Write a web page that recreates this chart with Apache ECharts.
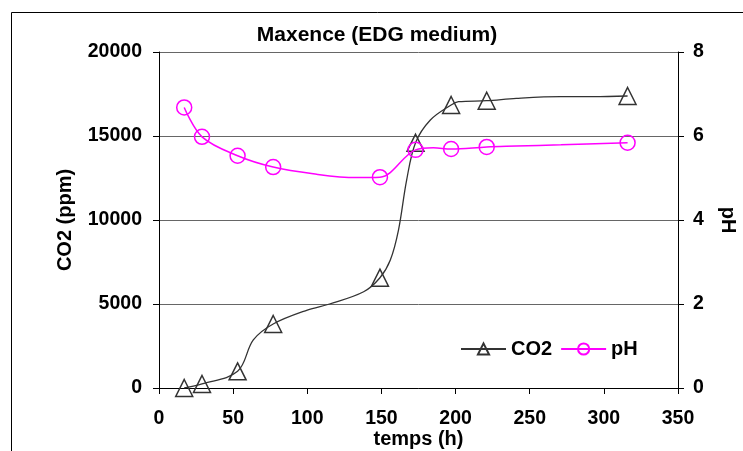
<!DOCTYPE html>
<html>
<head>
<meta charset="utf-8">
<script src="https://cdn.jsdelivr.net/npm/echarts@6/dist/echarts.min.js"></script>
<style>html,body{margin:0;padding:0;background:#fff;}#c{width:743px;height:451px;}</style>
</head>
<body>
<div id="c"></div>
<script>
// Measured points (with markers)
const co2Times = [17, 29, 53, 77, 149, 173, 197, 221, 316];
const co2Values = [0, 240, 990, 3810, 6565, 14600, 16845, 17100, 17380];
// Extra curve points (no markers)
const co2CurveTimes = [63.6, 100, 115, 138, 156, 161.5, 167, 183, 202, 241, 271, 293];
const co2CurveValues = [2860, 4640, 5000, 5730, 7620, 9400, 12380, 15950, 17040, 17240, 17340, 17340];

const phTimes = [17, 29, 53, 77, 149, 173, 197, 221, 316];
const phValues = [6.68, 5.98, 5.53, 5.26, 5.02, 5.67, 5.69, 5.74, 5.84];
const phCurveTimes = [104, 133, 185, 241, 271];
const phCurveValues = [5.10, 5.01, 5.72, 5.76, 5.79];

const xTicks = [0, 50, 100, 150, 200, 250, 300, 350];

function build(tm, vm, tc, vc) {
  const pts = [];
  tm.forEach((t, i) => pts.push({ value: [t, vm[i]] }));
  tc.forEach((t, i) => pts.push({ value: [t, vc[i]], symbol: 'none' }));
  pts.sort((a, b) => a.value[0] - b.value[0]);
  return pts;
}

const FONT = "'Liberation Sans', Arial, sans-serif";
const lbl = { color: '#000', fontFamily: FONT, fontWeight: 'bold', fontSize: 19.5 };

const chart = echarts.init(document.getElementById('c'), null, { renderer: 'canvas' });
chart.setOption({
  animation: false,
  backgroundColor: '#fff',
  title: {
    text: 'Maxence (EDG medium)',
    left: 372, top: 20, textAlign: 'center',
    textStyle: { color: '#000', fontFamily: FONT, fontWeight: 'bold', fontSize: 21 }
  },
  graphic: [{
    type: 'polyline',
    shape: { points: [[11.5, 451], [11.5, 12.5], [743, 12.5]] },
    style: { stroke: '#000', lineWidth: 1, fill: null }
  }],
  grid: { left: 159, right: 65, top: 52, bottom: 63, containLabel: false, outerBoundsMode: 'none' },
  legend: {
    left: 455, top: 334,
    itemWidth: 45, itemHeight: 14, itemGap: 8,
    textStyle: Object.assign({}, lbl, { fontSize: 20 }),
    data: ['CO2', 'pH']
  },
  xAxis: {
    type: 'value', min: 0, max: 350, interval: 50,
    name: 'temps (h)', nameLocation: 'middle', nameGap: 41, nameMoveOverlap: false,
    nameTextStyle: Object.assign({}, lbl, { fontSize: 20 }),
    axisLine: { show: true, lineStyle: { color: '#000', width: 1 } },
    axisTick: { show: true, length: 6, lineStyle: { color: '#000' } },
    axisLabel: Object.assign({}, lbl, { margin: 21,
      formatter: v => xTicks.indexOf(v) >= 0 ? String(v) : '' }),
    splitLine: { show: false }
  },
  yAxis: [{
    type: 'value', min: 0, max: 20000, interval: 5000,
    name: 'CO2 (ppm)', nameLocation: 'middle', nameGap: 84, nameMoveOverlap: false,
    nameTextStyle: Object.assign({}, lbl, { fontSize: 20 }),
    axisLine: { show: true, lineStyle: { color: '#000', width: 1 } },
    axisTick: { show: true, length: 6, lineStyle: { color: '#000' } },
    axisLabel: Object.assign({}, lbl, { margin: 17, formatter: v => String(v) }),
    splitLine: { show: true, lineStyle: { color: '#666', width: 1 } }
  }, {
    type: 'value', min: 0, max: 8, interval: 2, position: 'right',
    name: 'pH', nameLocation: 'middle', nameGap: 40, nameRotate: -90, nameMoveOverlap: false,
    nameTextStyle: Object.assign({}, lbl, { fontSize: 20 }),
    axisLine: { show: true, lineStyle: { color: '#000', width: 1 } },
    axisTick: { show: true, length: 6, lineStyle: { color: '#000' } },
    axisLabel: Object.assign({}, lbl, { margin: 15, formatter: v => String(v) }),
    splitLine: { show: false }
  }],
  series: [{
    name: 'CO2', type: 'line', yAxisIndex: 0,
    smooth: 0.35,
    symbol: 'triangle', symbolSize: 17, showAllSymbol: true,
    lineStyle: { color: '#333', width: 1.3 },
    itemStyle: { color: 'rgba(255,255,255,0)', borderColor: '#333', borderWidth: 1.5 },
    data: build(co2Times, co2Values, co2CurveTimes, co2CurveValues),
    z: 3
  }, {
    name: 'pH', type: 'line', yAxisIndex: 1,
    smooth: 0.35,
    symbol: 'circle', symbolSize: 15, showAllSymbol: true,
    lineStyle: { color: '#ff00ff', width: 1.5 },
    itemStyle: { color: 'rgba(255,255,255,0)', borderColor: '#ff00ff', borderWidth: 1.5 },
    data: build(phTimes, phValues, phCurveTimes, phCurveValues),
    z: 4
  }]
});
</script>
</body>
</html>
